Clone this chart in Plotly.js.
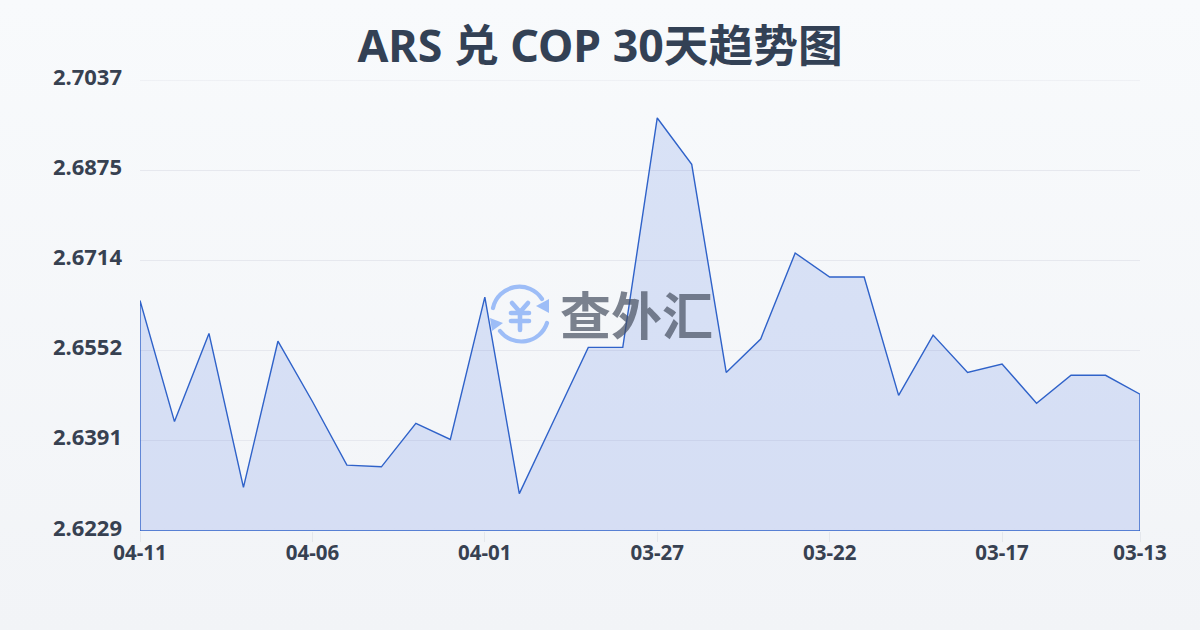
<!DOCTYPE html>
<html><head><meta charset="utf-8">
<script src="https://cdn.plot.ly/plotly-3.0.1.min.js"></script>
<style>html,body{margin:0;padding:0;width:1200px;height:630px;overflow:hidden;background:linear-gradient(180deg,#f8fafc 0%,#f2f4f7 100%)}#c{width:1200px;height:630px}</style>
</head><body><div id="c"></div>
<script>
const dates=["04-11","04-10","04-09","04-08","04-07","04-06","04-05","04-04","04-03","04-02","04-01","03-31","03-30","03-29","03-28","03-27","03-26","03-25","03-24","03-23","03-22","03-21","03-20","03-19","03-18","03-17","03-16","03-15","03-14","03-13"];
const rates=[2.6642,2.6425,2.6583,2.6307,2.6569,2.6461,2.6347,2.6344,2.6422,2.6393,2.6648,2.6296,2.6427,2.6558,2.6558,2.6969,2.6886,2.6513,2.6573,2.6727,2.6684,2.6684,2.6472,2.6580,2.6513,2.6528,2.6458,2.6508,2.6508,2.6474];
const yTicks=[2.6229,2.6391,2.6552,2.6714,2.6875,2.7037];
const xTicks=["04-11","04-06","04-01","03-27","03-22","03-17","03-13"];
const titleText="ARS 兑 COP 30天趋势图";
const brandText="查外汇";
const FONT='"Noto Sans","Noto Sans CJK SC",sans-serif';
const INK="#334155", AXIS="#374151";
const idx=dates.map((_,i)=>i);
const last=idx.length-1, base=yTicks[0], top_=yTicks[yTicks.length-1];
const icon='<svg xmlns="http://www.w3.org/2000/svg" viewBox="0 0 70 70"><g fill="none" stroke="#9dbdf7" stroke-linecap="round" stroke-linejoin="round"><g stroke-width="4.2"><path d="M8 27A27 27 0 0 1 57 18"/><path d="M62 42A27 27 0 0 1 15 50"/></g><g stroke-width="4.6"><path d="M27 22L35 31L43 22M26 32H44M26 40H44M35 31V49"/></g></g><path d="M64 18V32L51 25Z" fill="#9dbdf7"/><path d="M5 37L18 42L7 50Z" fill="#9dbdf7"/></svg>';
Plotly.newPlot("c",[{
  type:"scatter",mode:"lines",
  x:idx.concat([last,0,0]),
  y:rates.concat([base,base,rates[0]]),
  fill:"toself",fillcolor:"rgba(59,105,225,0.155)",
  line:{color:"#2f62c9",width:1.4,shape:"linear"},hoverinfo:"skip",showlegend:false
}],{
  width:1200,height:630,
  paper_bgcolor:"rgba(0,0,0,0)",plot_bgcolor:"rgba(0,0,0,0)",
  margin:{l:140,r:60,t:80,b:99,pad:0},
  title:{text:titleText,x:0.5,xanchor:"center",y:0.927,yanchor:"middle",font:{family:FONT,size:44.7,color:INK,weight:700}},
  xaxis:{range:[0,last],tickmode:"array",tickvals:xTicks.map(t=>dates.indexOf(t)),ticktext:xTicks,
    ticks:"outside",ticklen:10,tickcolor:"#e4e7ec",tickwidth:1,showgrid:false,zeroline:false,showline:false,ticklabelstandoff:-7,
    tickfont:{family:FONT,size:20.5,color:AXIS,weight:700}},
  yaxis:{range:[base,top_],tickmode:"array",tickvals:yTicks,ticktext:yTicks.map(v=>v.toFixed(4)),
    gridcolor:"#e6e8ee",gridwidth:1,zeroline:false,showline:false,ticks:"",ticklen:0,ticklabelstandoff:17,ticklabelshift:-3,
    tickfont:{family:FONT,size:22,color:AXIS,weight:700}},
  shapes:[{type:"line",xref:"paper",x0:0,x1:1,yref:"y",y0:top_,y1:top_,layer:"below",line:{color:"#e6e8ee",width:1}}],
  images:[{source:"data:image/svg+xml;utf8,"+encodeURIComponent(icon),xref:"paper",yref:"paper",xanchor:"left",yanchor:"top",
    x:(485-140)/1000,y:1-(281-80)/451,sizex:70/1000,sizey:70/451,sizing:"contain",layer:"above"}],
  annotations:[{text:brandText,xref:"paper",yref:"paper",x:(636-140)/1000,y:1-(313-80)/451,xanchor:"center",yanchor:"middle",showarrow:false,
    font:{family:'"Noto Sans CJK SC",sans-serif',size:51,color:"rgba(70,78,95,0.7)",weight:700}}]
},{displayModeBar:false,staticPlot:true});
</script></body></html>
